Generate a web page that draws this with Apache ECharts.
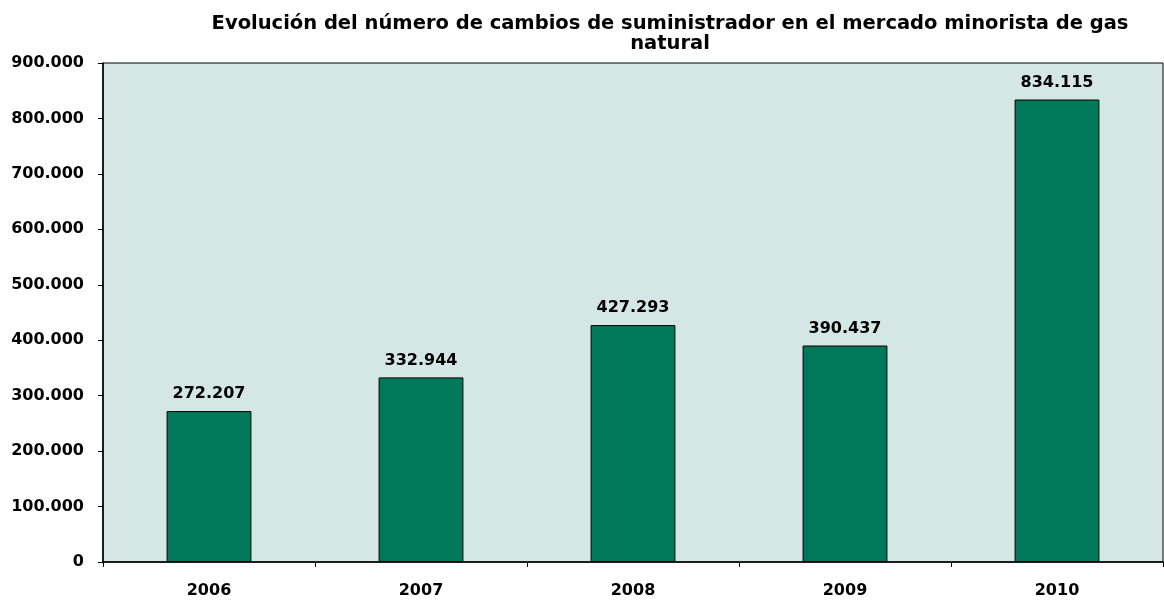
<!DOCTYPE html>
<html>
<head>
<meta charset="utf-8">
<script src="https://cdn.jsdelivr.net/npm/echarts@6/dist/echarts.min.js"></script>
<style>
  html, body { margin: 0; padding: 0; background: #fff; }
  #chart { width: 1164px; height: 603px; }
</style>
</head>
<body>
<div id="chart"></div>
<script>
const years = ['2006', '2007', '2008', '2009', '2010'];
const cambios = [272207, 332944, 427293, 390437, 834115];

// formato con punto como separador de miles
const fmt = v => String(v).replace(/\B(?=(\d{3})+(?!\d))/g, '.');

const font = 'DejaVu Sans, Arial, sans-serif';

const chart = echarts.init(document.getElementById('chart'));

chart.setOption({
  animation: false,
  title: {
    text: 'Evolución del número de cambios de suministrador en el mercado minorista de gas\nnatural',
    left: 665,
    top: 9,
    textAlign: 'center',
    textStyle: {
      fontFamily: font,
      fontSize: 19.5,
      fontWeight: 'bold',
      color: '#000',
      lineHeight: 20
    }
  },
  grid: {
    left: 103,
    right: 1,
    top: 63,
    bottom: 41,
    show: true,
    backgroundColor: '#D4E7E4',
    borderColor: '#000',
    borderWidth: 1
  },
  xAxis: {
    type: 'category',
    data: years,
    axisLine: { lineStyle: { color: '#000', width: 1.5 } },
    axisTick: { show: true, length: 5, lineStyle: { color: '#000' } },
    axisLabel: {
      margin: 21,
      fontFamily: font,
      fontSize: 16,
      fontWeight: 'bold',
      color: '#000'
    }
  },
  yAxis: {
    type: 'value',
    min: 0,
    max: 900000,
    interval: 100000,
    splitLine: { show: false },
    axisLine: { show: true, lineStyle: { color: '#000', width: 1.5 } },
    axisTick: { show: true, length: 5, lineStyle: { color: '#000' } },
    axisLabel: {
      margin: 19,
      formatter: v => fmt(v),
      fontFamily: font,
      fontSize: 16,
      fontWeight: 'bold',
      color: '#000'
    }
  },
  series: [
    {
      type: 'bar',
      data: cambios,
      barWidth: '40%',
      itemStyle: { color: '#00795A', borderColor: '#000', borderWidth: 1 },
      label: {
        show: true,
        position: 'top',
        distance: 9,
        formatter: p => fmt(p.value),
        fontFamily: font,
        fontSize: 16,
        fontWeight: 'bold',
        color: '#000'
      }
    }
  ]
});

window.addEventListener('resize', () => chart.resize());
</script>
</body>
</html>
